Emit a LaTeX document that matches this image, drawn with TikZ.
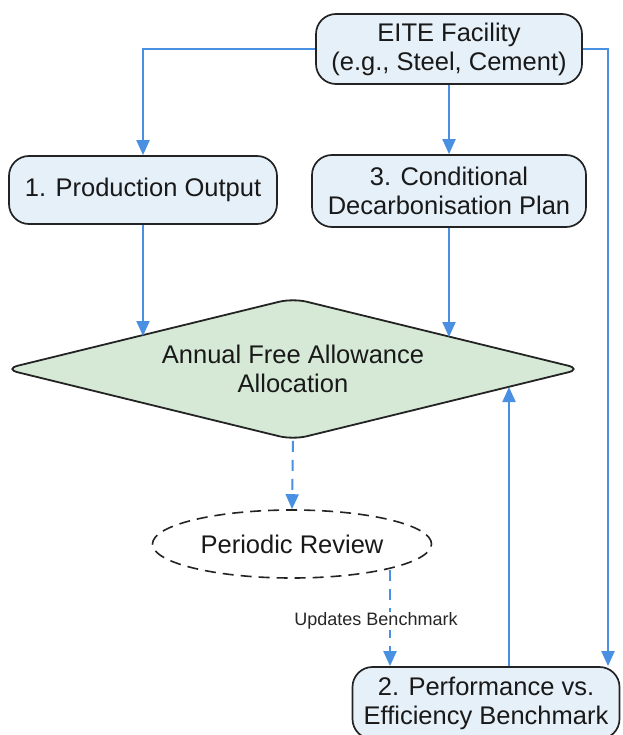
\documentclass[tikz,border=0pt]{standalone}
\usepackage{fontspec}
\setmainfont{Liberation Sans}
\usetikzlibrary{arrows.meta,shapes.geometric,calc}
\definecolor{boxfill}{RGB}{230,240,248}
\definecolor{decfill}{RGB}{213,233,214}
\definecolor{flowblue}{RGB}{74,144,226}
\definecolor{edge}{RGB}{35,35,35}
\begin{document}
\begin{tikzpicture}[x=1pt,y=-1pt,
  box/.style={draw=edge,line width=1.7pt,fill=boxfill,rounded corners=20pt,align=center,
    inner sep=0pt,font=\fontsize{25.5}{29}\selectfont,text=black!90},
  dec/.style={draw=edge,line width=1.8pt,fill=decfill,diamond,aspect=4.08,rounded corners=14pt,align=center,
    inner sep=0pt,font=\fontsize{25.5}{29}\selectfont,text=black!90},
  oval/.style={draw=edge,line width=1.6pt,dash pattern=on 11pt off 7pt,ellipse,align=center,
    inner sep=0pt,font=\fontsize{25.5}{29}\selectfont,text=black!90},
  flow/.style={draw=flowblue,line width=2pt,-{Triangle[length=15pt,width=13pt]}},
  dashflow/.style={flow,dash pattern=on 11pt off 8pt},
  lbl/.style={fill=white,inner sep=1pt,font=\fontsize{18}{21}\selectfont,text=black!85}]
\useasboundingbox (0,0) rectangle (622,735);
\node[box,minimum width=266,minimum height=70] (eite) at (449,49) {EITE Facility\\(e.g., Steel, Cement)};
\node[box,minimum width=268,minimum height=68] (prod) at (143,190) {1. Production Output};
\node[box,minimum width=274,minimum height=72] (plan) at (449,191) {3. Conditional\\Decarbonisation Plan};
\node[dec,minimum width=578,minimum height=142] (alloc) at (293,369) {Annual Free Allowance\\Allocation};
\node[oval,minimum width=279,minimum height=68] (review) at (292,544) {Periodic Review};
\node[box,minimum width=267,minimum height=72] (perf) at (486,703) {2. Performance vs.\\Efficiency Benchmark};
\coordinate (d1) at (143,336);
\coordinate (d2) at (449,337);
\coordinate (d3) at (509,387);
\coordinate (r1) at (390,570);
\draw[flow] (eite.west) -| (prod.north);
\draw[flow] (eite.south) -- (plan.north);
\draw[flow] (eite.east) -| ([xshift=122pt]perf.north);
\draw[flow] (prod.south) -- (d1);
\draw[flow] (plan.south) -- (d2);
\draw[dashflow] (alloc.south) -- (review.north);
\draw[dashflow] (r1) -- (r1 |- perf.north);
\node[lbl] (upd) at (376,621) {Updates Benchmark};
\draw[flow] (d3 |- perf.north) -- (d3);
\end{tikzpicture}
\end{document}
